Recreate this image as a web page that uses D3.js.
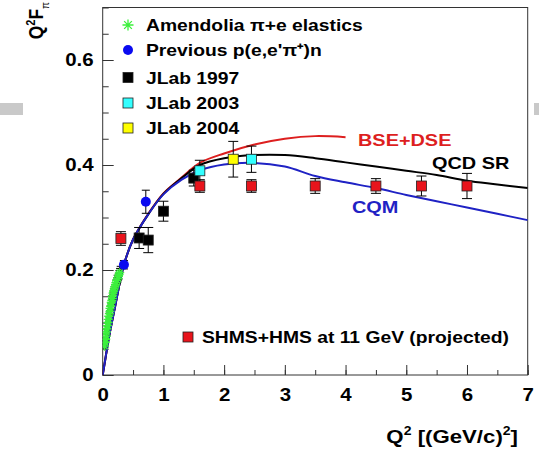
<!DOCTYPE html>
<html>
<head>
<title>Pion form factor</title>
<meta charset="utf-8" />
<style>
body { margin:0; background:#fff; }
svg text { font-family: "Liberation Sans", Arial, Helvetica, sans-serif; font-weight:bold; }
</style>
</head>
<body>
<div id="chart"></div>
<script src="https://d3js.org/d3.v7.min.js" charset="utf-8"></script>
<script type="text/javascript">
// data
var amendoliaQ2 = [0.03,0.04,0.05,0.06,0.06,0.07,0.08,0.09,0.09,0.10,0.11,0.12,0.12,0.13,0.14,0.15,0.16,0.16,0.17,0.18,0.19,0.20,0.21,0.22,0.23,0.25,0.26,0.27,0.28];
var amendoliaF  = [0.055,0.062,0.068,0.074,0.082,0.088,0.094,0.100,0.106,0.112,0.117,0.121,0.127,0.131,0.138,0.142,0.146,0.151,0.156,0.160,0.164,0.168,0.172,0.176,0.180,0.184,0.188,0.192,0.195];
var amendoliaErr = [0.004,0.004,0.004,0.004,0.005,0.005,0.005,0.005,0.005,0.006,0.006,0.006,0.006,0.006,0.007,0.007,0.007,0.007,0.008,0.008,0.008,0.008,0.009,0.009,0.010,0.010,0.011,0.011,0.012];

var prevQ2 = [0.35, 0.71];
var prevF = [0.210, 0.330];
var prevErr = [0.008, 0.022];

var jlab97Q2 = [0.60, 0.75, 1.00, 1.50];
var jlab97F = [0.261, 0.257, 0.312, 0.375];
var jlab97Err = [0.020, 0.024, 0.019, 0.015];

var jlab03Q2 = [1.60, 2.45];
var jlab03F = [0.389, 0.411];
var jlab03Err = [0.020, 0.025];

var jlab04Q2 = [2.15];
var jlab04F = [0.411];
var jlab04Err = [0.034];

var projQ2 = [0.30, 1.60, 2.45, 3.50, 4.50, 5.25, 6.00];
var projF = [0.260, 0.360, 0.360, 0.360, 0.360, 0.360, 0.360];
var projErr = [0.013, 0.012, 0.012, 0.014, 0.014, 0.019, 0.024];

// model curves
var bseQ2 = [0, 0.05, 0.1, 0.2, 0.35, 0.5, 0.75, 1.0, 1.3, 1.6, 2.0, 2.5, 3.0, 3.5, 4.0];
var bseF  = [0, 0.035, 0.07, 0.128, 0.21, 0.258, 0.307, 0.346, 0.376, 0.404, 0.422, 0.439, 0.450, 0.455, 0.453];
var qcdQ2 = [0, 0.05, 0.1, 0.2, 0.35, 0.5, 0.75, 1.0, 1.3, 1.6, 2.0, 2.5, 3.0, 3.5, 4.0, 4.5, 5.0, 5.5, 6.0, 6.5, 7.0];
var qcdF  = [0, 0.035, 0.07, 0.128, 0.21, 0.258, 0.306, 0.345, 0.375, 0.400, 0.413, 0.419, 0.419, 0.413, 0.405, 0.397, 0.389, 0.381, 0.370, 0.363, 0.356];
var cqmQ2 = [0, 0.05, 0.1, 0.2, 0.35, 0.5, 0.75, 1.0, 1.3, 1.6, 2.0, 2.5, 3.0, 3.5, 4.0, 4.5, 5.0, 5.5, 6.0, 6.5, 7.0];
var cqmF  = [0, 0.035, 0.07, 0.128, 0.21, 0.258, 0.306, 0.344, 0.372, 0.390, 0.401, 0.404, 0.397, 0.379, 0.367, 0.356, 0.343, 0.331, 0.319, 0.307, 0.295];

var xTicks = [0, 1, 2, 3, 4, 5, 6, 7];
var yTicks = [0, 0.2, 0.4, 0.6];

var legendNames = ["Amendolia \u03c0+e elastics", "Previous p(e,e'\u03c0\u207a)n", "JLab 1997", "JLab 2003", "JLab 2004"];

var W = 539, H = 449;
var SX = 1.17; // the original picture is stretched sideways, so is its text
var svg = d3.select("#chart").append("svg").attr("width", W).attr("height", H);

function label(g, px, py, size, anchor){
  return g.append("text").attr("transform","translate("+px+","+py+") scale("+SX+",1)")
    .attr("text-anchor", anchor || "start").style("font-size", size+"px");
}

// the grey slide bars left and right
svg.append("rect").attr("x",0).attr("y",103).attr("width",23).attr("height",12).style("fill","#c9c9c9");
svg.append("rect").attr("x",534).attr("y",103).attr("width",5).attr("height",12).style("fill","#c9c9c9");

var x = d3.scaleLinear().domain([0,7]).range([102.7,527.7]);
var y = d3.scaleLinear().domain([0,0.7]).range([375,7.5]);

svg.append("clipPath").attr("id","frame").append("rect")
  .attr("x",x(0)).attr("y",y(0.7)).attr("width",x(7)-x(0)).attr("height",y(0)-y(0.7));

// axes, ticks inside like ROOT
function styleAxis(g){
  g.select(".domain").remove();
  g.selectAll("line").style("stroke","#333").style("stroke-width",1);
  g.selectAll("text").style("font-size","17.5px").style("fill","#000");
}
function stretchLabels(g){
  g.selectAll(".tick text").each(function(){
    var t = d3.select(this);
    var tx = +t.attr("x") || 0, ty = +t.attr("y") || 0;
    t.attr("x", null).attr("y", null).attr("transform","translate("+tx+","+ty+") scale("+SX+",1)");
  });
}
var xMinor = d3.range(0, 7.01, 0.5);
var yMinor = d3.range(0, 0.701, 0.05);
svg.append("g").attr("transform","translate(0,"+y(0)+")")
  .call(d3.axisBottom(x).tickValues(xMinor).tickSize(-5).tickFormat("")).call(styleAxis);
svg.append("g").attr("transform","translate(0,"+y(0)+")")
  .call(d3.axisBottom(x).tickValues(xTicks).tickSize(-10).tickPadding(14).tickFormat(d3.format("d"))).call(styleAxis).call(stretchLabels);
svg.append("g").attr("transform","translate("+x(0)+",0)")
  .call(d3.axisLeft(y).tickValues(yMinor).tickSize(-6).tickFormat("")).call(styleAxis);
svg.append("g").attr("transform","translate("+x(0)+",0)")
  .call(d3.axisLeft(y).tickValues(yTicks).tickSize(-11).tickPadding(9).tickFormat(function(d){ return d===0 ? "0" : d3.format(".1f")(d); })).call(styleAxis).call(stretchLabels);

svg.append("rect").attr("x",x(0)).attr("y",y(0.7)).attr("width",x(7)-x(0)).attr("height",y(0)-y(0.7))
  .style("fill","none").style("stroke","#333").style("stroke-width",1);

// axis titles
var xt = label(svg, 518, 443, 19, "end");
xt.append("tspan").text("Q");
xt.append("tspan").attr("dy",-8).style("font-size","12px").text("2");
xt.append("tspan").attr("dy",8).text(" [(GeV/c)");
xt.append("tspan").attr("dy",-8).style("font-size","12px").text("2");
xt.append("tspan").attr("dy",8).text("]");

var yt = svg.append("text").attr("transform","translate(43,2) rotate(-90) scale(1,"+SX+")").attr("text-anchor","end").style("font-size","17.5px");
yt.append("tspan").text("Q");
yt.append("tspan").attr("dy",-7).style("font-size","11px").text("2");
yt.append("tspan").attr("dy",7).text("F");
yt.append("tspan").attr("dy",5).style("font-size","10px").style("font-weight","normal").text("\u03c0");

// curves
var plot = svg.append("g").attr("clip-path","url(#frame)");
function drawCurve(qs, fs, col){
  var pts = qs.map(function(q,i){ return [q, fs[i]]; });
  var line = d3.line().x(function(d){ return x(d[0]); }).y(function(d){ return y(d[1]); }).curve(d3.curveCatmullRom.alpha(0.5));
  plot.append("path").datum(pts).attr("d", line)
    .style("fill","none").style("stroke",col).style("stroke-width",2);
}
drawCurve(bseQ2, bseF, "#dd1f1f");
drawCurve(qcdQ2, qcdF, "#000");
drawCurve(cqmQ2, cqmF, "#1f22c4");

// error bars
function errBars(qs, fs, es, cap){
  qs.forEach(function(q,i){
    var cx = x(q), y1 = y(fs[i]+es[i]), y2 = y(fs[i]-es[i]);
    plot.append("line").attr("x1",cx).attr("x2",cx).attr("y1",y1).attr("y2",y2).style("stroke","#000").style("stroke-width",1);
    if (cap) {
      plot.append("line").attr("x1",cx-cap).attr("x2",cx+cap).attr("y1",y1).attr("y2",y1).style("stroke","#000").style("stroke-width",1);
      plot.append("line").attr("x1",cx-cap).attr("x2",cx+cap).attr("y1",y2).attr("y2",y2).style("stroke","#000").style("stroke-width",1);
    }
  });
}
errBars(amendoliaQ2, amendoliaF, amendoliaErr, 3);
errBars(prevQ2, prevF, prevErr, 4);
errBars(jlab97Q2, jlab97F, jlab97Err, 5);
errBars(jlab03Q2, jlab03F, jlab03Err, 5);
errBars(jlab04Q2, jlab04F, jlab04Err, 5);
errBars(projQ2, projF, projErr, 5);

// markers
function starPath(s){
  var d = s*0.7;
  return "M"+(-s)+",0L"+s+",0M0,"+(-s)+"L0,"+s+"M"+(-d)+","+(-d)+"L"+d+","+d+"M"+(-d)+","+d+"L"+d+","+(-d);
}
function square(g, cx, cy, col){
  g.append("rect").attr("x",cx-5).attr("y",cy-5).attr("width",10).attr("height",10)
    .style("fill",col).style("stroke","#222").style("stroke-width",0.8);
}
amendoliaQ2.forEach(function(q,i){
  plot.append("path").attr("d", starPath(4.5)).attr("transform","translate("+x(q)+","+y(amendoliaF[i])+")")
    .style("stroke","#3cf03c").style("stroke-width",1.4).style("fill","none");
});
prevQ2.forEach(function(q,i){
  plot.append("circle").attr("cx",x(q)).attr("cy",y(prevF[i])).attr("r",5).style("fill","#0a0af0");
});
jlab97Q2.forEach(function(q,i){ square(plot, x(q), y(jlab97F[i]), "#000"); });
projQ2.forEach(function(q,i){ square(plot, x(q), y(projF[i]), "#e8141c"); });
jlab03Q2.forEach(function(q,i){ square(plot, x(q), y(jlab03F[i]), "#33ffff"); });
jlab04Q2.forEach(function(q,i){ square(plot, x(q), y(jlab04F[i]), "#ffff00"); });

// legend
var legY = [25, 50, 77.5, 103, 128];
var leg = svg.append("g");
leg.append("path").attr("d", starPath(5.5)).attr("transform","translate(128,"+legY[0]+")")
  .style("stroke","#3cf03c").style("stroke-width",1.3).style("fill","none");
leg.append("circle").attr("cx",128).attr("cy",legY[1]).attr("r",5).style("fill","#0a0af0");
square(leg, 128, legY[2], "#000");
square(leg, 128, legY[3], "#33ffff");
square(leg, 128, legY[4], "#ffff00");
legendNames.forEach(function(t,i){
  label(leg, 146, legY[i]+6, 16.5).text(t);
});

square(svg, 188, 337, "#e8141c");
label(svg, 202, 343, 16.5).text("SHMS+HMS at 11 GeV (projected)");

// curve labels
label(svg, 358, 146, 17).style("fill","#dd1f1f").text("BSE+DSE");
label(svg, 432, 169, 17).style("fill","#000").text("QCD SR");
label(svg, 352, 213, 17).style("fill","#1f22c4").text("CQM");
</script>
</body>
</html>
